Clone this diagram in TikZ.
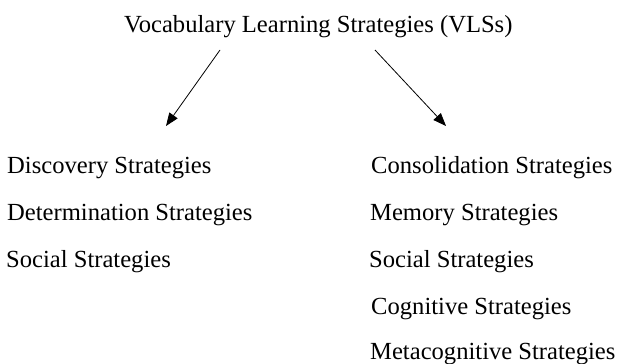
\documentclass[tikz,border=0pt]{standalone}
\usepackage{fontspec}
\setmainfont{Liberation Serif}
\usetikzlibrary{arrows.meta}
\begin{document}
\begin{tikzpicture}[x=1pt,y=-1pt,
  lbl/.style={anchor=base west,inner sep=0pt,font=\fontsize{24.6}{28}\selectfont},
  arr/.style={line width=0.8pt,-{Triangle[length=13pt,width=10pt]}}]
\useasboundingbox (0,0) rectangle (619,364);
\node[lbl] (title) at (124,32) {Vocabulary Learning Strategies (VLSs)};
\node[lbl] (disc) at (7,173) {Discovery Strategies};
\node[lbl] (det) at (7,220) {Determination Strategies};
\node[lbl] (socl) at (6,267) {Social Strategies};
\node[lbl] (cons) at (371,173) {Consolidation Strategies};
\node[lbl] (mem) at (370,220) {Memory Strategies};
\node[lbl] (socr) at (369,267) {Social Strategies};
\node[lbl] (cog) at (371,314) {Cognitive Strategies};
\node[lbl] (meta) at (370,359) {Metacognitive Strategies};
\coordinate (ls) at (220,50);
\coordinate (le) at (166,126);
\coordinate (rs) at (375,50);
\coordinate (re) at (446,126);
\draw[arr] (ls) -- (le);
\draw[arr] (rs) -- (re);
\end{tikzpicture}
\end{document}
